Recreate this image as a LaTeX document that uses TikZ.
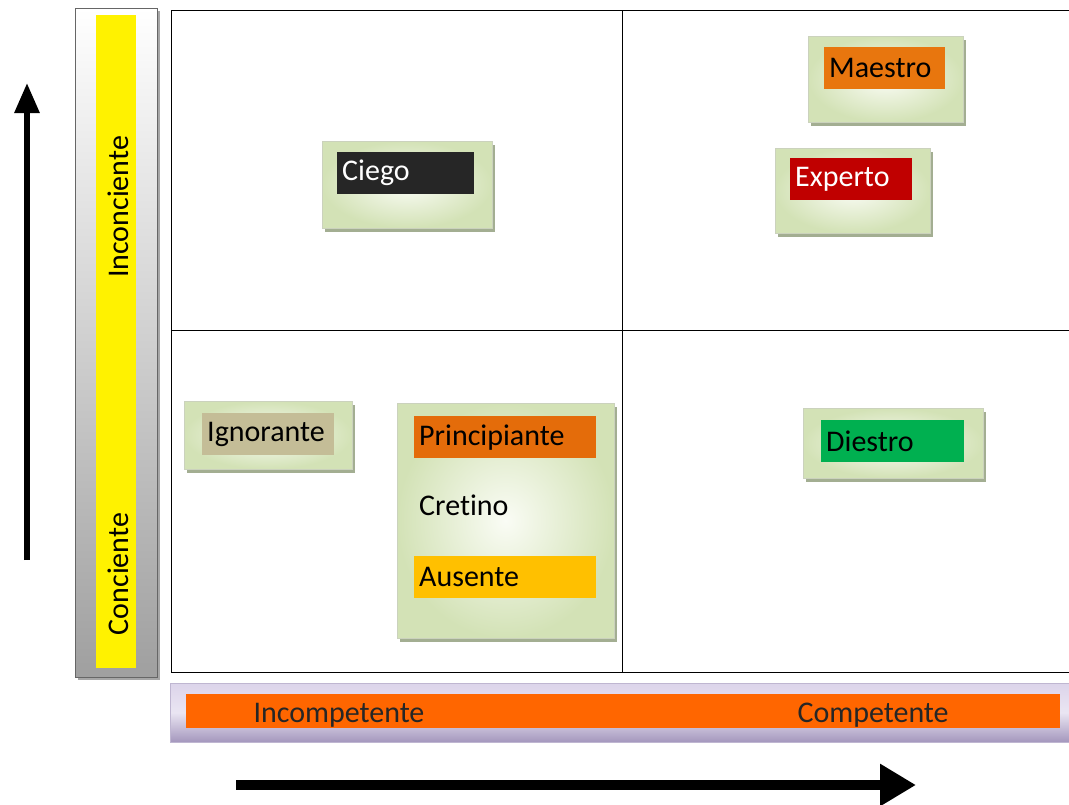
\documentclass[tikz,border=0pt]{standalone}
\usepackage{fontspec}
\setmainfont{Carlito}[Ligatures=NoCommon]
\usetikzlibrary{arrows.meta}
\definecolor{cardin}{HTML}{FAFCF5}
\definecolor{cardout}{HTML}{D3E2B6}
\definecolor{cardshadow}{HTML}{A3AE92}
\definecolor{maestroc}{HTML}{E8760E}
\definecolor{expertoc}{HTML}{C00000}
\definecolor{ciegoc}{HTML}{262626}
\definecolor{ignorc}{HTML}{C4BD97}
\definecolor{princc}{HTML}{E46C0A}
\definecolor{ausentec}{HTML}{FFC000}
\definecolor{diestroc}{HTML}{00B050}
\definecolor{barorange}{HTML}{FF6600}
\definecolor{lavtop}{HTML}{DCD4EA}
\definecolor{lavbot}{HTML}{A497BD}
\begin{document}
\begin{tikzpicture}[x=1pt,y=-1pt,
    every node/.style={font=\fontsize{30}{32}\selectfont},
    card/.style={inner color=cardin,outer color=cardout,draw=cardout!80!black!60},
    tag/.style={anchor=north west,minimum height=42pt,inner xsep=5pt,inner ysep=0pt,align=left}]
  \useasboundingbox (0,0) rectangle (1069,804);
  % left axis bar
  \fill[gray!70] (78,11) rectangle (160,680);
  \shade[top color=white,bottom color=gray!75,draw=gray!80!black] (75,8) rectangle (157,677);
  \fill[yellow] (96,15) rectangle (136,668);
  \node[rotate=90] (inc) at (118,207) {Inconciente};
  \node[rotate=90] (con) at (118,574) {Conciente};
  % bottom axis bar
  \shade[top color=lavtop,bottom color=lavbot,middle color=lavtop!60,draw=lavbot!70] (170,683) rectangle (1069,742);
  \fill[barorange] (186,694) rectangle (1060,728);
  \node[anchor=west,text=black!85] (incomp) at (250,715) {Incompetente};
  \node[anchor=west,text=black!85] (comp) at (794,715) {Competente};
  % grid
  \draw[line width=1pt] (171,10) rectangle (1070,672);
  \draw[line width=1pt] (622,10) -- (622,672);
  \draw[line width=1pt] (171,330) -- (1070,330);
  % arrows
  \coordinate (vfrom) at (27,560);
  \coordinate (vto) at (27,83);
  \draw[line width=6pt,-{Triangle[length=30pt,width=24pt]}] (vfrom) -- (vto);
  \coordinate (hfrom) at (236,785);
  \coordinate (hto) at (916,785);
  \draw[line width=10pt,-{Triangle[length=36pt,width=40pt]}] (hfrom) -- (hto);
  % cards
  \foreach \xa/\ya/\xb/\yb in {322/141/492/228, 808/36/963/122, 775/148/930/233,
                               184/401/352/469, 397/403/614/638, 803/408/983/478}{
    \fill[cardshadow] (\xa+3,\ya+4) rectangle (\xb+3,\yb+4);
    \shade[card] (\xa,\ya) rectangle (\xb,\yb);
  }
  \node[tag,fill=ciegoc,text=white,text width=127pt] (ciego) at (337,152) {Ciego};
  \node[tag,fill=maestroc,text width=111pt] (maestro) at (824,47) {Maestro};
  \node[tag,fill=expertoc,text=white,text width=112pt] (experto) at (790,158) {Experto};
  \node[tag,fill=ignorc,text width=122pt] (ignorante) at (202,413) {Ignorante};
  \node[tag,fill=princc,text width=172pt] (principiante) at (414,416) {Principiante};
  \node[tag,text width=172pt] (cretino) at (414,484) {Cretino};
  \node[tag,fill=ausentec,text width=172pt] (ausente) at (414,556) {Ausente};
  \node[tag,fill=diestroc,text width=133pt] (diestro) at (821,420) {Diestro};
\end{tikzpicture}
\end{document}
